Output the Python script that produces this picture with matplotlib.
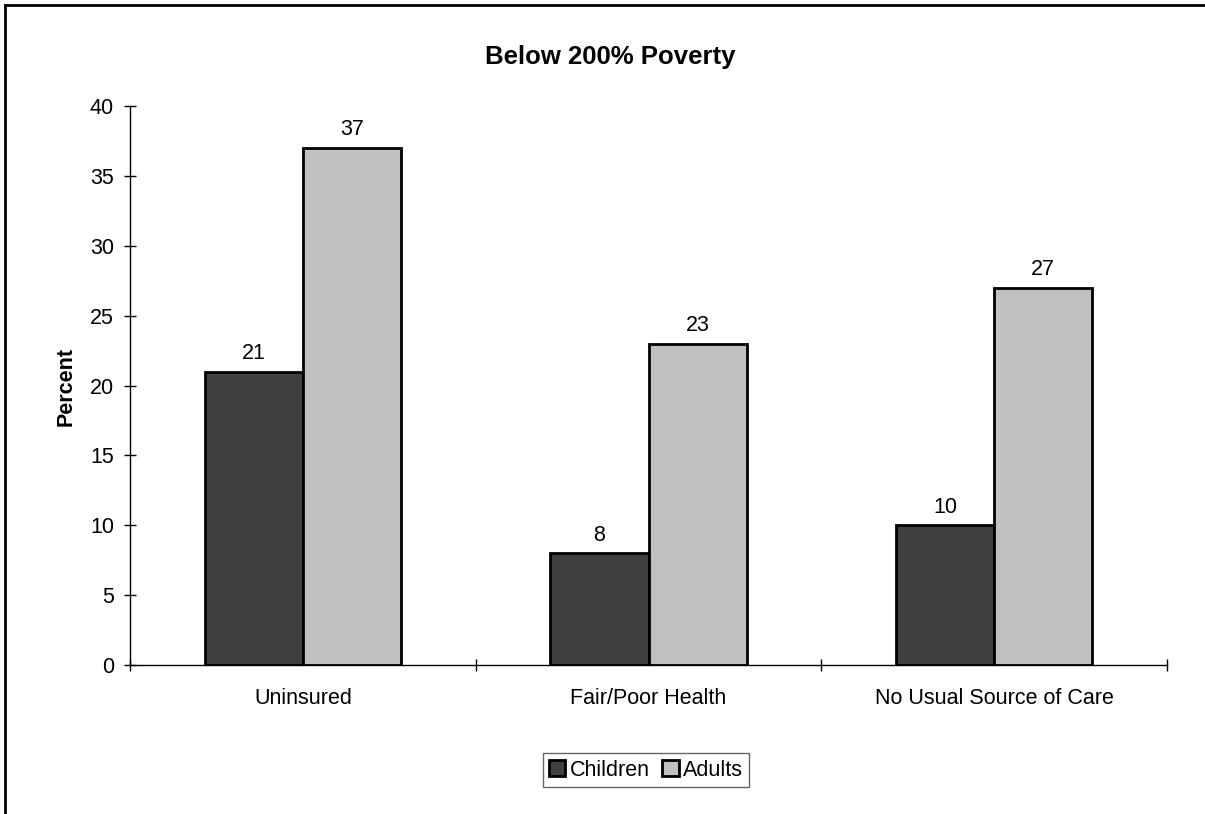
import numpy as np
import matplotlib
matplotlib.use('Agg')
import matplotlib.pyplot as plt
from matplotlib.lines import Line2D

plt.rcParams['font.family'] = ['Liberation Sans', 'DejaVu Sans']

# Datos
categorias = ['Uninsured', 'Fair/Poor Health', 'No Usual Source of Care']
ninos = [21, 8, 10]
adultos = [37, 23, 27]
series = ['Children', 'Adults']
yticks = [0, 5, 10, 15, 20, 25, 30, 35, 40]

fs = 15.5  # tamaño de letra general

fig = plt.figure(figsize=(12.05, 8.14), dpi=100)
ax = fig.add_axes([130/1205, 1 - 665/814, 1037/1205, 559/814])

x = np.arange(len(categorias))
ancho = 0.284

b1 = ax.bar(x - ancho/2, ninos, ancho, color='#404040', edgecolor='black', linewidth=2, label=series[0])
b2 = ax.bar(x + ancho/2, adultos, ancho, color='#C0C0C0', edgecolor='black', linewidth=2, label=series[1])

for barras in (b1, b2):
    for b in barras:
        ax.annotate(f'{b.get_height():g}', (b.get_x() + b.get_width()/2, b.get_height()),
                    xytext=(0, 5.5), textcoords='offset points', ha='center', va='bottom', fontsize=fs)

ax.set_xlim(-0.5, len(categorias) - 0.5)
ax.set_ylim(0, 40)
ax.set_yticks(yticks)
ax.set_xticks(x)
ax.set_xticklabels(categorias)
ax.set_xticks(np.arange(len(categorias) + 1) - 0.5, minor=True)

ax.tick_params(axis='x', which='major', length=0, pad=16.5, labelsize=fs)
ax.tick_params(axis='x', which='minor', direction='inout', length=9, width=1)
ax.tick_params(axis='y', direction='inout', length=9, width=1, pad=7, labelsize=fs)

for lado in ['top', 'right']:
    ax.spines[lado].set_visible(False)
ax.spines['left'].set_linewidth(1)
ax.spines['bottom'].set_linewidth(1)

fig.text(610/1205, 1 - 57/814, 'Below 200% Poverty', ha='center', va='center', fontsize=18.5, fontweight='bold')
fig.text(66/1205, 1 - 386/814, 'Percent', rotation=90, ha='center', va='center', fontsize=fs, fontweight='bold')

fig.legend(loc='center', bbox_to_anchor=(646/1205, 1 - 770/814), ncol=2, fontsize=fs, frameon=True,
           fancybox=False, edgecolor='#404040', handlelength=0.75, handleheight=0.75,
           handletextpad=0.2, columnspacing=0.6, borderpad=0.3, borderaxespad=0)

# Borde del gráfico (solo arriba e izquierda visibles)
fig.add_artist(Line2D([5/1205, 1], [1 - 5/814, 1 - 5/814], color='black', linewidth=2))
fig.add_artist(Line2D([5/1205, 5/1205], [0, 1 - 5/814], color='black', linewidth=2))

fig.savefig('out.png', dpi=100)
